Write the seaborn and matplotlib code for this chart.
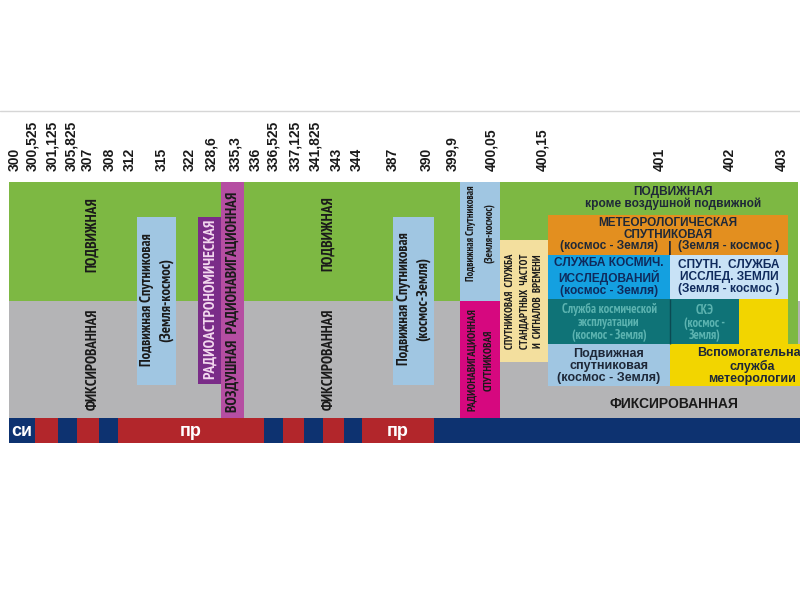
import numpy as np
import matplotlib
matplotlib.use("Agg")
import matplotlib.pyplot as plt
from matplotlib import font_manager
import seaborn as sns

# ---------------- data ----------------
band_edges = [300, 300.525, 301.125, 305.825, 307, 308, 312, 315, 322, 328.6, 335.3,
              336, 336.525, 337.125, 341.825, 343, 344, 387, 390, 399.9, 400.05,
              400.15, 401, 402, 403]
edge_labels = ["300", "300,525", "301,125", "305,825", "307", "308", "312", "315",
               "322", "328,6", "335,3", "336", "336,525", "337,125", "341,825", "343",
               "344", "387", "390", "399,9", "400,05", "400,15", "401", "402", "403"]

# allocation blocks (service key, lower MHz, upper MHz)
block_keys = ["mob", "fix", "mob_r", "mss_up1", "ras", "arns", "mss_dn1", "mss_up2",
              "rnss", "sfts", "metsat", "sr", "eess", "so", "so2", "metaids",
              "mss_dn2", "metaids2"]
block_lo = [300, 300, 400.15, 312, 322, 328.6, 387, 399.9, 399.9, 400.05, 400.15,
            400.15, 401, 400.15, 401, 402, 400.15, 401]
block_hi = [400.15, 403.25, 403.2, 315, 328.6, 335.3, 390, 400.05, 400.05, 400.15,
            403, 401, 403, 401, 402, 403, 401, 403.25]

# service labels (text, lower MHz, upper MHz of the span it is centred in)
label_text = ["ПОДВИЖНАЯ", "ФИКСИРОВАННАЯ", "ПОДВИЖНАЯ", "ФИКСИРОВАННАЯ",
              "Подвижная Спутниковая\n(Земля-космос)",
              "РАДИОАСТРОНОМИЧЕСКАЯ",
              "ВОЗДУШНАЯ  РАДИОНАВИГАЦИОННАЯ",
              "Подвижная Спутниковая\n(космос-Земля)",
              "Подвижная Спутниковая\n(Земля-космос)",
              "РАДИОНАВИГАЦИОННАЯ\nСПУТНИКОВАЯ",
              "СПУТНИКОВАЯ  СЛУЖБА\nСТАНДАРТНЫХ  ЧАСТОТ\nИ  СИГНАЛОВ  ВРЕМЕНИ",
              "ПОДВИЖНАЯ\nкроме воздушной подвижной",
              "МЕТЕОРОЛОГИЧЕСКАЯ\nСПУТНИКОВАЯ",
              "(космос - Земля)", "|", "(Земля - космос )",
              "СЛУЖБА КОСМИЧ.\nИССЛЕДОВАНИЙ\n(космос - Земля)",
              "СПУТН.  СЛУЖБА\nИССЛЕД. ЗЕМЛИ\n(Земля - космос )",
              "Служба космической\nэксплуатации\n(космос - Земля)",
              "СКЭ\n(космос -\nЗемля)",
              "Подвижная\nспутниковая\n(космос - Земля)",
              "Вспомогательная\nслужба\nметеорологии",
              "ФИКСИРОВАННАЯ"]
label_lo = [300, 300, 336, 336, 312, 322, 328.6, 387, 399.9, 399.9, 400.05, 400.15,
            400.15, 400.15, 401, 401, 400.15, 401, 400.15, 401, 400.15, 401.5, 400.15]
label_hi = [315, 315, 387, 387, 315, 328.6, 335.3, 390, 400.05, 400.05, 400.15, 403.2,
            403, 401, 401, 403, 401, 403, 401, 402, 401, 403.25, 403.25]

# bottom strip
strip_lo = [300, 300.525, 301.125, 305.825, 307, 308, 336, 336.525, 337.125, 341.825,
            343, 344, 390]
strip_hi = [300.525, 301.125, 305.825, 307, 308, 336, 336.525, 337.125, 341.825, 343,
            344, 390, 403.25]
strip_kind = ["си", "пр", "си", "пр", "си", "пр", "си", "пр", "си", "пр", "си", "пр", "си"]
strip_text = ["си", "", "", "", "", "пр", "", "", "", "", "", "пр", ""]

# ---------------- layout / style ----------------
edge_px = [9, 35, 58, 77, 99, 118, 137, 176, 198, 221, 244, 264, 283, 304, 323, 344,
           362, 393, 434, 460, 500, 548, 670, 739, 788]
label_nudge = [6, -3, -6, -6, -11, -8, -7, -14, -8, -10, -9, -8, -10, -9, -8, -7, -5,
               0, -7, -8, -9, -6, -10, -9, -6]
scale_f = [299.0] + band_edges + [403.25]
scale_p = [0.0] + edge_px + [800.0]

block_style = {  # y-top, y-bottom, colour
    "mob": (182, 301, "#7db843"), "fix": (301, 418, "#b4b4b6"),
    "mob_r": (182, 344, "#7db843"), "mss_up1": (217, 385, "#a0c6e2"),
    "ras": (217, 384, "#7a2c88"), "arns": (182, 418, "#b54ea2"),
    "mss_dn1": (217, 385, "#a0c6e2"), "mss_up2": (182, 301, "#a0c6e2"),
    "rnss": (301, 418, "#d6087f"), "sfts": (240, 362, "#f3df9e"),
    "metsat": (215, 255, "#e38f1f"), "sr": (255, 299, "#14a0e0"),
    "eess": (255, 299, "#c8e2f6"), "so": (299, 344, "#0f7377"),
    "so2": (299, 344, "#0f7377"), "metaids": (299, 344, "#f2d500"),
    "mss_dn2": (344, 386, "#a0c6e2"), "metaids2": (344, 386, "#f2d500"),
}
strip_color = {"си": "#0d3270", "пр": "#b2262b"}

names = {f.name for f in font_manager.fontManager.ttflist}
NARROW = "DejaVu Sans"
for cand in ["PT Sans Narrow", "Roboto Condensed", "Fira Sans Condensed",
             "Ubuntu Condensed", "Open Sans Condensed", "Arimo"]:
    if cand in names:
        NARROW = cand
        break
WIDE = "Liberation Sans"

# per label: y-centre, rotation, size, colour, linespacing, narrow?
label_style = [
    (235, 90, 11, "#1a1a1a", 1.2, True), (359, 90, 10.8, "#1a1a1a", 1.2, True),
    (234, 90, 11, "#1a1a1a", 1.2, True), (359, 90, 10.8, "#1a1a1a", 1.2, True),
    (300, 90, 10.6, "#1a1a1a", 1.4, True), (299, 90, 11.2, "#f3d8ef", 1.2, True),
    (302, 90, 11, "#1a1a1a", 1.2, True), (299, 90, 10.6, "#1a1a1a", 1.4, True),
    (233, 90, 7.6, "#1a1a1a", 1.9, True), (360, 90, 7.9, "#1a1a1a", 1.9, True),
    (301, 90, 7.6, "#1a1a1a", 1.5, True),
    (198, 0, 8.6, "#1e2838", 1.0, False), (229, 0, 8.5, "#1e2838", 1.0, False),
    (246, 0, 8.6, "#1e2838", 1.0, False), (248, 0, 10, "#1e2838", 1.0, False),
    (246, 0, 8.6, "#1e2838", 1.0, False),
    (277, 0, 8.6, "#0f2a5c", 1.05, False), (277, 0, 8.6, "#0f2a5c", 1.05, False),
    (322, 0, 9, "#5cb3b0", 1.0, True), (323, 0, 9, "#5cb3b0", 1.0, True),
    (366, 0, 9, "#1e2838", 1.0, False), (366, 0, 9, "#1e2838", 1.0, False),
    (404, 0, 10, "#1a1a1a", 1.0, False),
]


def fwd(f):
    return np.interp(f, scale_f, scale_p)


def inv(p):
    return np.interp(p, scale_p, scale_f)


# ---------------- drawing ----------------
sns.set_theme(style="white")
plt.rcParams["font.family"] = [WIDE, "DejaVu Sans"]

fig = plt.figure(figsize=(8, 6), dpi=100)
ax = fig.add_axes([0, 0, 1, 1])
ax.set_xscale("function", functions=(fwd, inv))
ax.set_xlim(299.0, 403.25)
ax.set_ylim(600, 0)
ax.axis("off")

ax.axhline(111, color="#d6d6d6", lw=1)

for k, lo, hi in zip(block_keys, block_lo, block_hi):
    y0, y1, c = block_style[k]
    ax.bar(lo, y1 - y0, width=hi - lo, bottom=y0, align="edge", color=c, lw=0)

# divider between teal cells
ax.vlines(401, 299, 344, color="#0b4a52", lw=1)

for lo, hi, kind, t in zip(strip_lo, strip_hi, strip_kind, strip_text):
    ax.bar(lo, 25, width=hi - lo, bottom=418, align="edge", color=strip_color[kind], lw=0)
    if t:
        xc = inv((fwd(lo) + fwd(hi)) / 2)
        ax.text(xc, 431, t, ha="center", va="center", color="white", fontsize=13,
                fontweight="bold")

for f, lab, nd in zip(band_edges, edge_labels, label_nudge):
    ax.text(inv(fwd(f) + nd), 171, lab, rotation=90, ha="center", va="bottom",
            fontsize=10, fontweight="bold", color="#1a1a1a")

for t, lo, hi, st in zip(label_text, label_lo, label_hi, label_style):
    y, rot, size, col, ls, narrow = st
    xc = inv((fwd(lo) + fwd(hi)) / 2)
    fam = [NARROW, "DejaVu Sans"] if narrow else [WIDE, "DejaVu Sans"]
    ax.text(xc, y, t, rotation=rot, ha="center", va="center", fontsize=size,
            color=col, fontweight="bold", linespacing=ls, multialignment="center",
            family=fam)

fig.savefig("out.png", dpi=100)
